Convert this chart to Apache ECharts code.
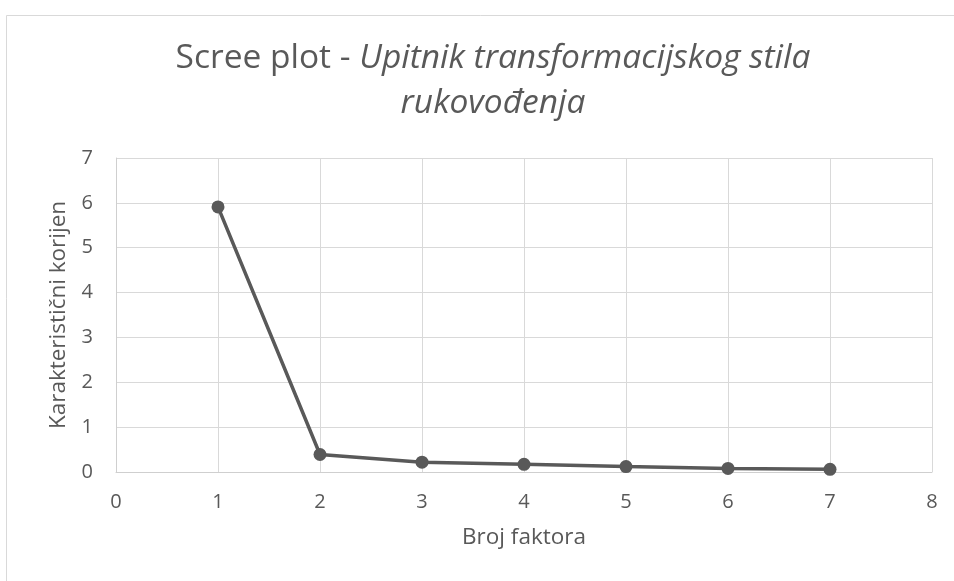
<!DOCTYPE html>
<html><head><meta charset="utf-8">
<script src="https://cdn.jsdelivr.net/npm/echarts@6/dist/echarts.min.js"></script>
<style>html,body{margin:0;padding:0;background:#fff}#c{width:954px;height:581px}</style>
</head><body><div id="c"></div>
<script>
const factors = [1, 2, 3, 4, 5, 6, 7];
const eigenvalues = [5.91, 0.39, 0.22, 0.17, 0.12, 0.08, 0.06];
const xTicks = [0, 1, 2, 3, 4, 5, 6, 7, 8];
const yTicks = [0, 1, 2, 3, 4, 5, 6, 7];
const titleMain = 'Scree plot - ';
const titleItalic1 = 'Upitnik transformacijskog stila';
const titleItalic2 = 'rukovođenja';
const xName = 'Broj faktora';
const yName = 'Karakteristični korijen';

const FONT = '"Open Sans", "Liberation Sans", sans-serif';
const chart = echarts.init(document.getElementById('c'));
chart.setOption({
  animation: false,
  backgroundColor: '#fff',
  graphic: [{
    type: 'rect', left: 4, top: 13, shape: {width: 1000, height: 1000},
    style: {fill: 'none', stroke: '#d9d9d9', lineWidth: 1}, silent: true
  }],
  title: {
    left: 488, top: 31, textAlign: 'center',
    text: '{n|' + titleMain + '}{i|' + titleItalic1 + '}\n{i|' + titleItalic2 + '}',
    textStyle: {
      fontWeight: 'normal',
      rich: {
        n: {fontFamily: FONT, fontSize: 33.5, fontWeight: 'normal', color: '#595959', lineHeight: 45},
        i: {fontFamily: FONT, fontSize: 33.5, fontWeight: 'normal', fontStyle: 'italic', color: '#595959', lineHeight: 45}
      }
    }
  },
  grid: {left: 116, right: 22, top: 158, bottom: 109, containLabel: false},
  xAxis: {
    type: 'value', min: xTicks[0], max: xTicks[xTicks.length - 1], interval: 1,
    name: xName, nameLocation: 'middle', nameGap: 54,
    nameTextStyle: {fontFamily: FONT, fontSize: 22.5, color: '#595959'},
    axisLine: {show: true, lineStyle: {color: '#cfcfcf', width: 1}},
    axisTick: {show: false},
    axisLabel: {fontFamily: FONT, fontSize: 20, color: '#595959', margin: 20},
    splitLine: {show: true, lineStyle: {color: '#d9d9d9', width: 1}}
  },
  yAxis: {
    type: 'value', min: yTicks[0], max: yTicks[yTicks.length - 1], interval: 1,
    name: yName, nameLocation: 'middle', nameGap: 46, nameRotate: 90,
    nameTextStyle: {fontFamily: FONT, fontSize: 22.5, color: '#595959'},
    axisLine: {show: true, lineStyle: {color: '#cfcfcf', width: 1}},
    axisTick: {show: false},
    axisLabel: {fontFamily: FONT, fontSize: 20, color: '#595959', margin: 23},
    splitLine: {show: true, lineStyle: {color: '#d9d9d9', width: 1}}
  },
  series: [{
    type: 'line',
    data: factors.map((f, i) => [f, eigenvalues[i]]),
    symbol: 'circle', symbolSize: 13,
    lineStyle: {color: '#595959', width: 3.5},
    itemStyle: {color: '#595959'}
  }]
});
</script></body></html>
